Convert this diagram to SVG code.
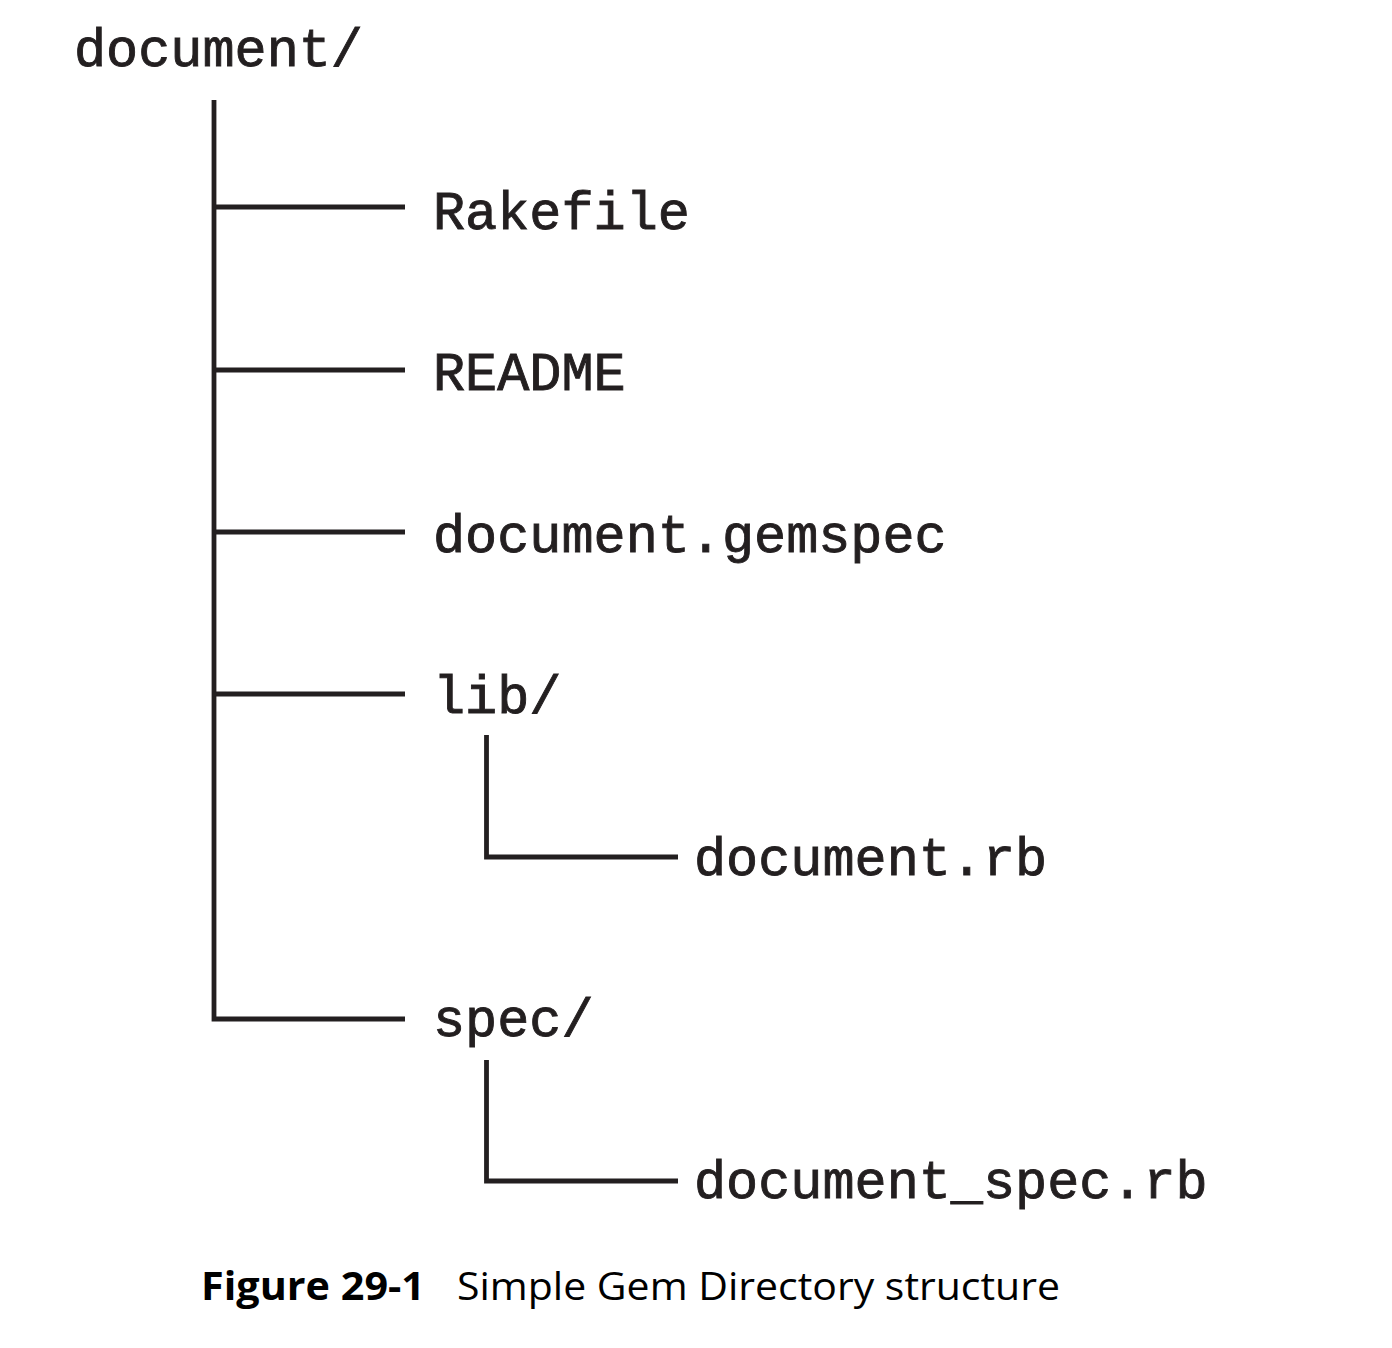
<svg xmlns="http://www.w3.org/2000/svg" width="1392" height="1348" viewBox="0 0 1392 1348">
<style>
.n{font-family:"Courier New","Nimbus Mono PS","Nimbus Mono L",Courier,"Liberation Mono",monospace;font-size:53.5px;fill:#231f20;stroke:#231f20;stroke-width:0.9px}
.c{fill:none;stroke:#231f20;stroke-width:4.8;stroke-linecap:butt;stroke-linejoin:miter}
.cap{font-family:"Open Sans","Noto Sans",sans-serif;font-size:39px;fill:#000}
</style>
<rect width="1392" height="1348" fill="#fff"/>
<g id="connectors">
<path class="c" d="M214 100V1019H405"/>
<path class="c" d="M214 207H405"/>
<path class="c" d="M214 370H405"/>
<path class="c" d="M214 532H405"/>
<path class="c" d="M214 694H405"/>
<path class="c" d="M486.5 735V857H678"/>
<path class="c" d="M486.5 1060V1181H678"/>
</g>
<g id="root"><text class="n" x="74" y="66">document/</text></g>
<g id="rakefile"><text class="n" x="433" y="229">Rakefile</text></g>
<g id="readme"><text class="n" x="433" y="390">README</text></g>
<g id="gemspec"><text class="n" x="433" y="552">document.gemspec</text></g>
<g id="lib"><text class="n" x="433" y="713">lib/</text></g>
<g id="document_rb"><text class="n" x="694" y="875">document.rb</text></g>
<g id="spec"><text class="n" x="433" y="1036">spec/</text></g>
<g id="document_spec_rb"><text class="n" x="694" y="1198">document_spec.rb</text></g>
<g id="caption">
<text class="cap" x="201" y="1300" font-weight="bold" textLength="224" lengthAdjust="spacingAndGlyphs">Figure 29-1</text>
<text class="cap" x="457" y="1300" textLength="603" lengthAdjust="spacingAndGlyphs">Simple Gem Directory structure</text>
</g>
</svg>
